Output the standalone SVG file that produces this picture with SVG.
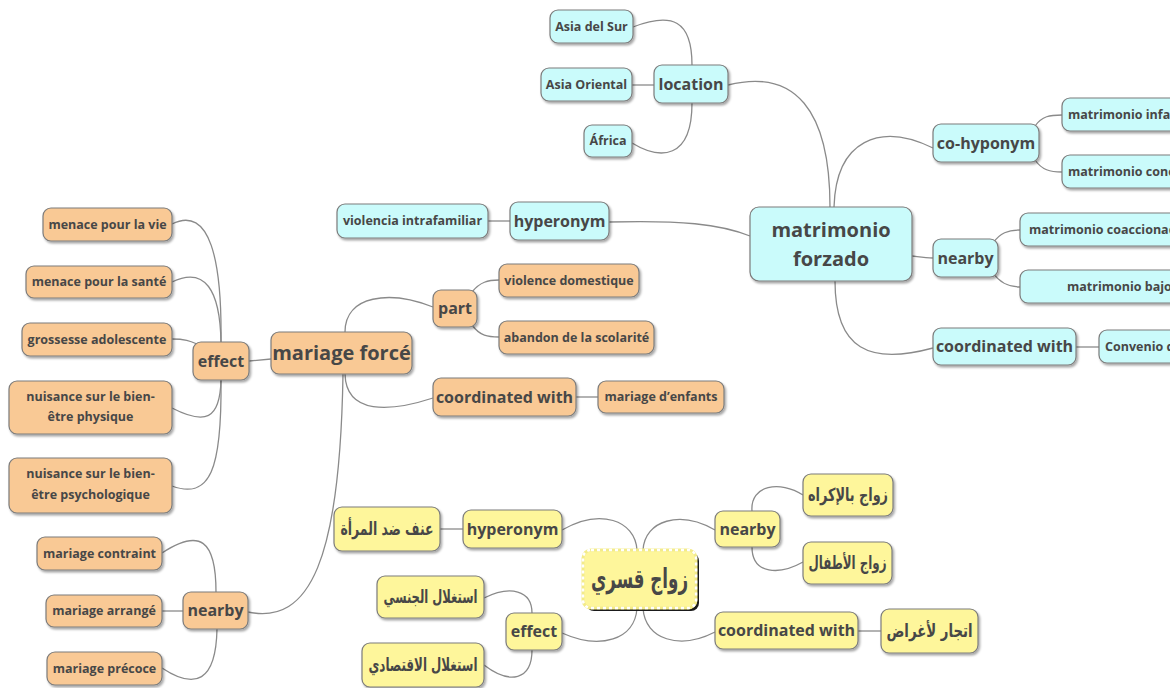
<svg xmlns="http://www.w3.org/2000/svg" width="1170" height="688" viewBox="0 0 1170 688">
<defs>
<filter id="sh" x="-10%" y="-10%" width="125%" height="135%">
<feDropShadow dx="1.5" dy="2" stdDeviation="1.2" flood-color="#000" flood-opacity="0.35"/>
</filter>
</defs>
<style>
.c{fill:none;stroke:#8a8a8a;stroke-width:1.3}
.b rect{fill:#cafbfb;stroke:#7c7c7c;stroke-width:1.2;filter:url(#sh)}
.o rect{fill:#f9c995;stroke:#7c7c7c;stroke-width:1.2;filter:url(#sh)}
.y rect{fill:#fef69b;stroke:#7c7c7c;stroke-width:1.2;filter:url(#sh)}
text{font-family:"Open Sans","Noto Sans","DejaVu Sans",sans-serif;font-weight:bold;fill:#474747;text-anchor:middle}
.s{font-size:12.5px}
.m{font-size:16px}
.l{font-size:20px}
.ar{font-family:"DejaVu Sans","Noto Sans",sans-serif;font-size:18px}
.st{text-anchor:start}
</style>
<g id="connectors">
<path class="c" d="M692 65 C692 20 672 12 633 27"/>
<path class="c" d="M632 85 L654 85"/>
<path class="c" d="M692 103 C692 160 660 160 632 143"/>
<path class="c" d="M728 85 C795 68 830 110 830 207"/>
<path class="c" d="M609 222 C680 220 720 224 750 236"/>
<path class="c" d="M488 221 L510 221"/>
<path class="c" d="M834 207 C836 140 880 122 933 148"/>
<path class="c" d="M1035 126 C1042 116 1050 115 1062 115"/>
<path class="c" d="M1035 160 C1042 170 1050 172 1062 172"/>
<path class="c" d="M912 256 C920 257 925 258 933 258"/>
<path class="c" d="M993 243 C1000 233 1008 230 1020 230"/>
<path class="c" d="M993 273 C1000 283 1008 287 1020 287"/>
<path class="c" d="M835 281 C835 350 870 365 933 348"/>
<path class="c" d="M1076 347 L1099 347"/>
<path class="c" d="M249 361 L271 359"/>
<path class="c" d="M221 342 C222 260 210 205 172 224"/>
<path class="c" d="M221 342 C220 290 205 266 172 282"/>
<path class="c" d="M172 339 C185 339 190 341 197 344"/>
<path class="c" d="M221 380 C220 420 205 425 172 408"/>
<path class="c" d="M221 380 C222 470 210 500 172 486"/>
<path class="c" d="M345 332 C345 295 390 290 433 307"/>
<path class="c" d="M345 374 C346 415 390 412 433 398"/>
<path class="c" d="M472 292 C480 282 488 280 499 280"/>
<path class="c" d="M472 325 C480 336 488 337 499 337"/>
<path class="c" d="M576 397 L598 397"/>
<path class="c" d="M343 374 C340 560 310 625 248 612"/>
<path class="c" d="M216 592 C216 540 200 528 162 553"/>
<path class="c" d="M162 611 L183 611"/>
<path class="c" d="M217 629 C216 682 195 690 162 668"/>
<path class="c" d="M637 550 C635 520 600 508 562 530"/>
<path class="c" d="M637 608 C635 640 600 650 562 633"/>
<path class="c" d="M643 550 C645 520 680 510 715 530"/>
<path class="c" d="M643 608 C645 640 680 650 715 632"/>
<path class="c" d="M752 511 C750 485 780 480 803 495"/>
<path class="c" d="M752 547 C752 575 780 575 803 562"/>
<path class="c" d="M858 631 L881 631"/>
<path class="c" d="M440 529 L463 529"/>
<path class="c" d="M532 613 C532 590 510 585 484 598"/>
<path class="c" d="M532 650 C532 680 510 685 484 665"/>
</g>
<g id="n_asia_sur" class="b"><rect x="550" y="10" width="83" height="33" rx="8"/><text class="s" x="591.5" y="26.5" dy=".35em">Asia del Sur</text></g>
<g id="n_asia_or" class="b"><rect x="541" y="68" width="91" height="33" rx="8"/><text class="s" x="586.5" y="84.5" dy=".35em">Asia Oriental</text></g>
<g id="n_location" class="b"><rect x="654" y="65" width="74" height="38" rx="8"/><text class="m" x="691" y="84" dy=".35em">location</text></g>
<g id="n_africa" class="b"><rect x="584" y="125" width="48" height="32" rx="8"/><text class="s" x="608" y="141" dy=".35em">África</text></g>
<g id="n_mf" class="b"><rect x="750" y="207" width="162" height="74" rx="9"/><text class="l" x="831" y="230" dy=".35em">matrimonio</text><text class="l" x="831" y="259" dy=".35em">forzado</text></g>
<g id="n_cohyp" class="b"><rect x="933" y="124" width="106" height="38" rx="8"/><text class="m" x="986" y="143" dy=".35em">co-hyponym</text></g>
<g id="n_minf" class="b"><rect x="1062" y="98" width="130" height="33" rx="8"/><text class="s st" x="1068" y="114.5" dy=".35em">matrimonio infan</text></g>
<g id="n_mconc" class="b"><rect x="1062" y="155" width="130" height="33" rx="8"/><text class="s st" x="1068" y="171.5" dy=".35em">matrimonio conc</text></g>
<g id="n_nearby_b" class="b"><rect x="933" y="239" width="65" height="38" rx="8"/><text class="m" x="965.5" y="258" dy=".35em">nearby</text></g>
<g id="n_mcoac" class="b"><rect x="1020" y="213" width="170" height="33" rx="8"/><text class="s st" x="1029" y="229.5" dy=".35em">matrimonio coaccionad</text></g>
<g id="n_mbajo" class="b"><rect x="1020" y="270" width="170" height="33" rx="8"/><text class="s st" x="1067" y="286.5" dy=".35em">matrimonio bajo</text></g>
<g id="n_coord_b" class="b"><rect x="933" y="328" width="143" height="37" rx="8"/><text class="m" x="1004.5" y="346.5" dy=".35em">coordinated with</text></g>
<g id="n_conv" class="b"><rect x="1099" y="330" width="100" height="33" rx="8"/><text class="s st" x="1105" y="346.5" dy=".35em">Convenio d</text></g>
<g id="n_hyper_b" class="b"><rect x="510" y="202" width="99" height="38" rx="8"/><text class="m" x="559.5" y="221" dy=".35em">hyperonym</text></g>
<g id="n_viol" class="b"><rect x="337" y="204" width="151" height="34" rx="8"/><text class="s" x="412.5" y="221" dy=".35em">violencia intrafamiliar</text></g>
<g id="n_menace_vie" class="o"><rect x="43" y="208" width="129" height="33" rx="8"/><text class="s" x="107.5" y="224.5" dy=".35em">menace pour la vie</text></g>
<g id="n_menace_sante" class="o"><rect x="26" y="266" width="146" height="32" rx="8"/><text class="s" x="99" y="282" dy=".35em">menace pour la santé</text></g>
<g id="n_grossesse" class="o"><rect x="22" y="323" width="150" height="33" rx="8"/><text class="s" x="97" y="339.5" dy=".35em">grossesse adolescente</text></g>
<g id="n_nuis_phys" class="o"><rect x="9" y="381" width="163" height="53" rx="8"/><text class="s" x="90.5" y="397" dy=".35em">nuisance sur le bien-</text><text class="s" x="90.5" y="417" dy=".35em">être physique</text></g>
<g id="n_nuis_psy" class="o"><rect x="9" y="458" width="163" height="55" rx="8"/><text class="s" x="90.5" y="474" dy=".35em">nuisance sur le bien-</text><text class="s" x="90.5" y="495" dy=".35em">être psychologique</text></g>
<g id="n_effect_o" class="o"><rect x="193" y="342" width="56" height="38" rx="8"/><text class="m" x="221" y="361" dy=".35em">effect</text></g>
<g id="n_mforce" class="o"><rect x="271" y="332" width="141" height="42" rx="8"/><text class="l" x="341.5" y="353" dy=".35em">mariage forcé</text></g>
<g id="n_part" class="o"><rect x="433" y="290" width="44" height="37" rx="8"/><text class="m" x="455" y="308.5" dy=".35em">part</text></g>
<g id="n_violdom" class="o"><rect x="499" y="264" width="140" height="33" rx="8"/><text class="s" x="569" y="280.5" dy=".35em">violence domestique</text></g>
<g id="n_abandon" class="o"><rect x="499" y="321" width="155" height="33" rx="8"/><text class="s" x="576.5" y="337.5" dy=".35em">abandon de la scolarité</text></g>
<g id="n_coord_o" class="o"><rect x="433" y="378" width="143" height="38" rx="8"/><text class="m" x="504.5" y="397" dy=".35em">coordinated with</text></g>
<g id="n_menf" class="o"><rect x="598" y="381" width="126" height="32" rx="8"/><text class="s" x="661" y="397" dy=".35em">mariage d’enfants</text></g>
<g id="n_nearby_o" class="o"><rect x="183" y="592" width="65" height="37" rx="8"/><text class="m" x="215.5" y="610.5" dy=".35em">nearby</text></g>
<g id="n_contraint" class="o"><rect x="37" y="537" width="125" height="33" rx="8"/><text class="s" x="99.5" y="553.5" dy=".35em">mariage contraint</text></g>
<g id="n_arrange" class="o"><rect x="46" y="595" width="116" height="32" rx="8"/><text class="s" x="104" y="611" dy=".35em">mariage arrangé</text></g>
<g id="n_precoce" class="o"><rect x="47" y="652" width="115" height="33" rx="8"/><text class="s" x="104.5" y="668.5" dy=".35em">mariage précoce</text></g>
<g id="n_zawaj">
<rect x="586" y="553" width="113" height="58" rx="8" fill="#1a1a1a"/>
<rect x="583" y="550" width="113" height="58" rx="8" fill="#fef69b" stroke="#f3eb8a" stroke-width="3"/>
<rect x="583" y="550" width="113" height="58" rx="8" fill="none" stroke="#ffffff" stroke-width="2.5" stroke-dasharray="3 3"/>
<text class="ar" x="639.5" y="579" dy=".35em" style="font-size:27px" textLength="97" lengthAdjust="spacingAndGlyphs">زواج قسري</text>
</g>
<g id="n_hyper_y" class="y"><rect x="463" y="510" width="99" height="38" rx="8"/><text class="m" x="512.5" y="529" dy=".35em">hyperonym</text></g>
<g id="n_unf" class="y"><rect x="334" y="507" width="106" height="44" rx="8"/><text class="ar" x="387" y="529" dy=".35em" textLength="93" lengthAdjust="spacingAndGlyphs">عنف ضد المرأة</text></g>
<g id="n_effect_y" class="y"><rect x="506" y="613" width="56" height="37" rx="8"/><text class="m" x="534" y="631.5" dy=".35em">effect</text></g>
<g id="n_istj" class="y"><rect x="377" y="576" width="107" height="42" rx="8"/><text class="ar" x="430.5" y="597" dy=".35em" textLength="94" lengthAdjust="spacingAndGlyphs">استغلال الجنسي</text></g>
<g id="n_istq" class="y"><rect x="362" y="643" width="122" height="44" rx="8"/><text class="ar" x="423" y="665" dy=".35em" textLength="109" lengthAdjust="spacingAndGlyphs">استغلال الاقتصادي</text></g>
<g id="n_nearby_y" class="y"><rect x="715" y="511" width="65" height="36" rx="8"/><text class="m" x="747.5" y="529" dy=".35em">nearby</text></g>
<g id="n_ikrah" class="y"><rect x="803" y="474" width="90" height="42" rx="8"/><text class="ar" x="848" y="495" dy=".35em" textLength="80" lengthAdjust="spacingAndGlyphs">زواج بالإكراه</text></g>
<g id="n_atfal" class="y"><rect x="803" y="542" width="89" height="42" rx="8"/><text class="ar" x="847.5" y="563" dy=".35em" textLength="78" lengthAdjust="spacingAndGlyphs">زواج الأطفال</text></g>
<g id="n_coord_y" class="y"><rect x="715" y="612" width="143" height="37" rx="8"/><text class="m" x="786.5" y="630.5" dy=".35em">coordinated with</text></g>
<g id="n_itjar" class="y"><rect x="881" y="609" width="97" height="44" rx="8"/><text class="ar" x="929.5" y="631" dy=".35em" textLength="86" lengthAdjust="spacingAndGlyphs">اتجار لأغراض</text></g>
</svg>
